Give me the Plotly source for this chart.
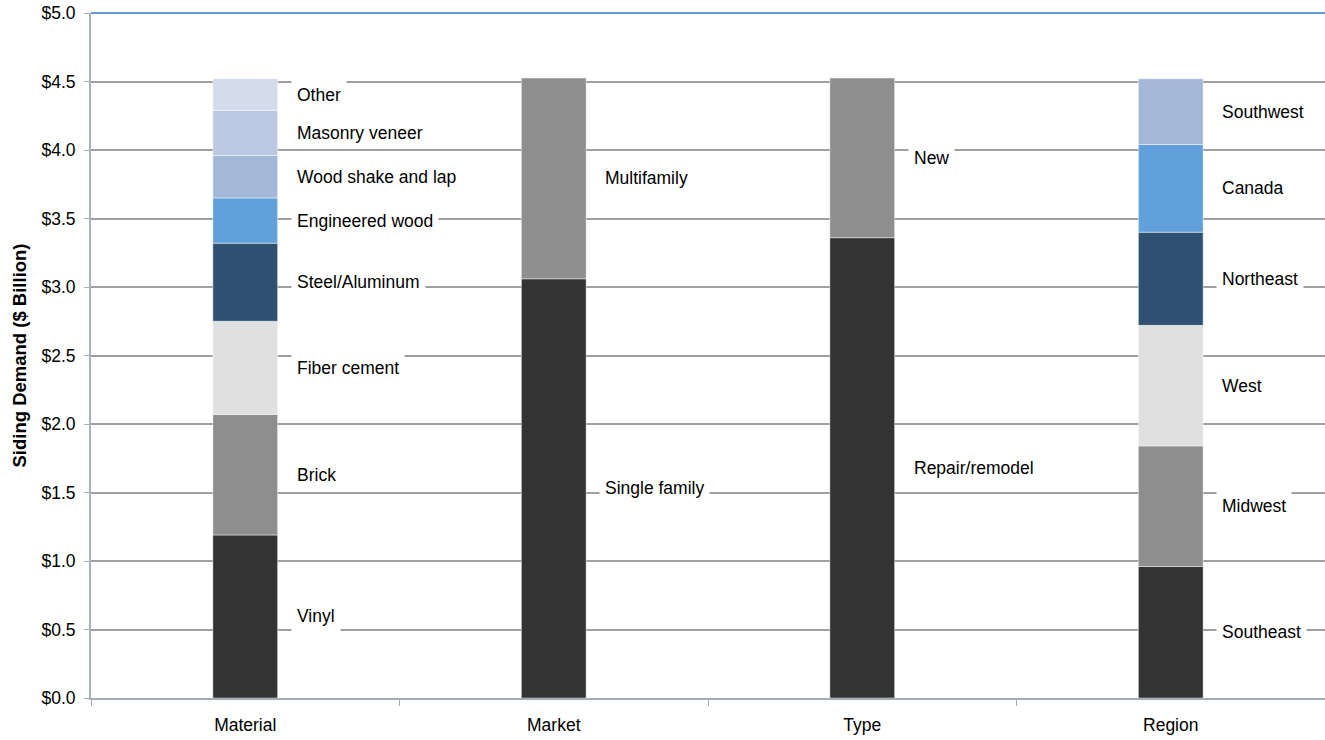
import plotly.graph_objects as go

categories = ["Material", "Market", "Type", "Region"]

material_labels = ["Vinyl", "Brick", "Fiber cement", "Steel/Aluminum", "Engineered wood",
                   "Wood shake and lap", "Masonry veneer", "Other"]
material_values = [1.19, 0.88, 0.68, 0.57, 0.33, 0.31, 0.33, 0.23]

market_labels = ["Single family", "Multifamily"]
market_values = [3.06, 1.465]

type_labels = ["Repair/remodel", "New"]
type_values = [3.36, 1.165]

region_labels = ["Southeast", "Midwest", "West", "Northeast", "Canada", "Southwest"]
region_values = [0.96, 0.88, 0.88, 0.68, 0.64, 0.48]

segment_colors = ["#333333", "#8E8E8E", "#E0E0E0", "#2F5171", "#62A0DB",
                  "#A3B8D9", "#BCC9E2", "#D2DCEA"]

groups = [
    (material_labels, material_values),
    (market_labels, market_values),
    (type_labels, type_values),
    (region_labels, region_values),
]

BAR_W = 0.21
FONT = "Liberation Sans, Arial, sans-serif"

fig = go.Figure()
annotations = []
for i, (labels, values) in enumerate(groups):
    base = 0.0
    for j, (lab, val) in enumerate(zip(labels, values)):
        fig.add_trace(go.Bar(
            x=[i], y=[val], base=[base], width=BAR_W, name=lab,
            marker=dict(color=segment_colors[j],
                        line=dict(color="rgba(255,255,255,0.45)", width=1)),
            showlegend=False, hoverinfo="name+y",
        ))
        annotations.append(dict(
            x=i + BAR_W / 2, y=base + val / 2, xref="x", yref="y",
            text=lab, showarrow=False, xanchor="left", yanchor="middle",
            xshift=13, bgcolor="white", borderpad=5,
            font=dict(family=FONT, size=17.5, color="#000000"),
        ))
        base += val

# blue top border line at the $5.0 level
fig.add_shape(type="line", xref="paper", yref="paper", x0=0, x1=1, y0=1, y1=1,
              line=dict(color="#6A9BD0", width=2), layer="above")

fig.update_layout(
    barmode="overlay",
    width=1325, height=740,
    margin=dict(l=91, r=0, t=13, b=42),
    plot_bgcolor="white", paper_bgcolor="white",
    font=dict(family=FONT, size=17.5, color="#000000"),
    annotations=annotations,
    xaxis=dict(
        range=[-0.5, 3.5], tickmode="array", tickvals=list(range(4)), ticktext=categories,
        showgrid=False, zeroline=False, showline=True, linecolor="#A4ADB8", linewidth=2,
        ticks="", ticklen=0, ticklabelstandoff=10,
        minor=dict(tick0=-0.5, dtick=1, ticks="outside", ticklen=6, tickcolor="#A4ADB8",
                   tickwidth=1, showgrid=False),
        tickfont=dict(size=17.5),
    ),
    yaxis=dict(
        range=[0, 5], dtick=0.5, tick0=0, tickprefix="$", tickformat=".1f",
        showgrid=True, gridcolor="#A0A0A0", gridwidth=2, zeroline=False,
        showline=True, linecolor="#A6B2C2", linewidth=2,
        ticks="outside", ticklen=5, tickcolor="#A6B2C2", tickwidth=1,
        ticklabelstandoff=5,
        tickfont=dict(size=17.5),
        title=dict(text="<b>Siding Demand ($ Billion)</b>", font=dict(size=18.5), standoff=10),
    ),
)

fig.write_html("out.html")
